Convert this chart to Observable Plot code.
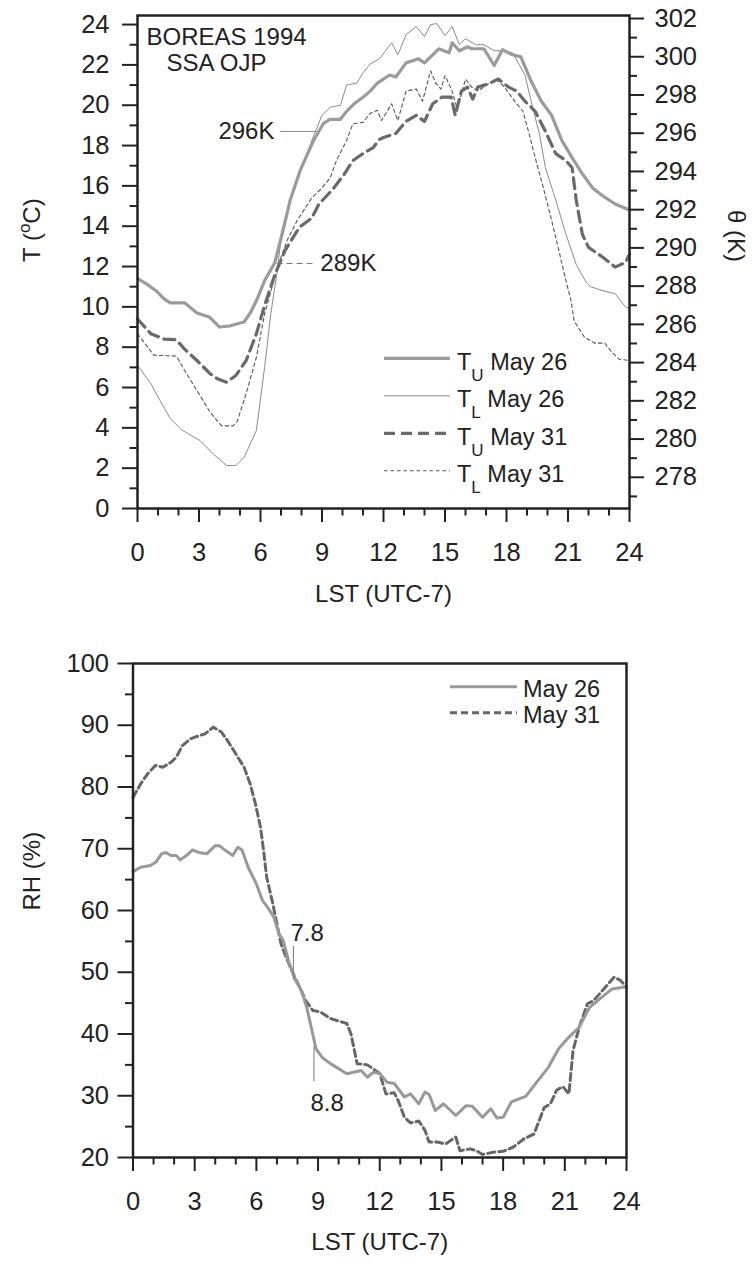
<!DOCTYPE html>
<html><head><meta charset="utf-8">
<script src="https://cdn.jsdelivr.net/npm/d3@7"></script>
<script src="https://cdn.jsdelivr.net/npm/@observablehq/plot@0.6"></script>
<style>
html,body{margin:0;padding:0;background:#fff;}
#chart{width:756px;height:1266px;position:relative;}
#chart svg{display:block;}
</style></head><body><div id="chart"></div>
<script>
// ---------- DATA (hour LST, value) ----------
const TU_MAY26 = [[0,11.4],[0.5,11.1],[0.9,10.8],[1.3,10.4],[1.6,10.2],[2.3,10.2],[2.6,9.95],[2.9,9.7],[3.5,9.5],[4.0,9.0],[4.5,9.05],[5.0,9.2],[5.2,9.25],[5.5,9.7],[5.8,10.3],[6.2,11.3],[6.7,12.2],[7.1,13.8],[7.45,15.3],[7.95,16.8],[8.3,17.6],[8.59,18.25],[9.07,19.1],[9.39,19.3],[9.9,19.3],[10.2,19.7],[10.6,20.1],[11.0,20.4],[11.35,20.7],[11.7,21.1],[12.3,21.5],[12.6,21.4],[13.1,22.1],[13.7,22.3],[14.0,22.1],[14.7,22.8],[15.2,22.6],[15.35,23.1],[15.7,22.7],[16.1,22.9],[16.3,22.8],[16.9,22.8],[17.4,21.97],[17.8,22.75],[18.3,22.5],[18.7,22.4],[19.2,21.2],[19.7,20.2],[20.2,19.5],[20.7,18.25],[21.2,17.4],[21.7,16.6],[22.2,15.9],[22.7,15.5],[23.3,15.1],[24,14.8]];
const TL_MAY26 = [[0,7.1],[0.65,6.2],[1.1,5.35],[1.6,4.46],[2.15,3.9],[3.05,3.37],[3.7,2.7],[4.35,2.13],[4.8,2.13],[5.2,2.54],[5.8,3.87],[6.2,7.0],[6.5,9.65],[6.8,11.65],[7.05,13.8],[7.5,15.5],[8.0,16.9],[8.6,18.5],[9.0,19.5],[9.4,19.9],[9.9,20.0],[10.2,21.0],[10.7,21.1],[11.0,21.6],[11.35,22.05],[11.8,22.3],[12.4,23.1],[12.7,22.5],[13.1,23.5],[13.6,23.9],[14.0,23.4],[14.3,24.0],[14.6,24.05],[15.0,23.45],[15.35,23.9],[15.7,23.0],[16.0,23.3],[16.5,23.0],[16.9,23.0],[17.4,22.7],[17.8,22.7],[18.3,22.6],[18.9,21.5],[19.2,20.2],[19.6,18.6],[19.9,16.9],[20.4,15.3],[20.9,13.6],[21.4,12.1],[21.9,11.2],[22.1,11.0],[22.7,10.8],[23.3,10.65],[23.8,10.0],[24,9.9]];
const TU_MAY31 = [[0,9.4],[0.65,8.67],[1.3,8.4],[1.9,8.37],[2.3,7.9],[2.9,7.34],[3.55,6.68],[3.9,6.43],[4.35,6.26],[4.8,6.6],[5.3,7.34],[5.8,8.67],[6.2,10.07],[6.7,11.6],[7.2,12.8],[7.9,13.95],[8.5,14.4],[8.85,15.1],[9.5,15.8],[10.1,16.6],[10.5,17.25],[11.0,17.6],[11.5,17.9],[11.8,18.3],[12.0,18.4],[12.6,18.6],[13.1,19.2],[13.6,19.5],[14.0,19.2],[14.4,20.07],[14.85,20.4],[15.3,20.4],[15.5,19.5],[15.8,20.7],[16.1,20.9],[16.35,20.3],[16.6,20.9],[17.1,21.05],[17.6,21.3],[18.1,20.9],[18.5,20.7],[18.9,20.2],[19.4,19.7],[19.9,18.7],[20.4,17.6],[20.9,17.25],[21.2,16.9],[21.4,15.3],[21.7,13.6],[22.0,12.95],[22.7,12.46],[23.3,11.97],[23.8,12.2],[24,12.6]];
const TL_MAY31 = [[0,8.67],[0.8,7.6],[1.9,7.56],[2.3,6.84],[2.9,5.85],[3.55,4.77],[4.1,4.1],[4.65,4.1],[4.85,4.28],[5.3,5.7],[5.8,7.5],[6.2,9.66],[6.7,11.47],[7.0,12.46],[7.3,13.3],[7.8,14.3],[8.5,15.4],[9.0,15.9],[9.4,16.4],[9.7,17.25],[10.2,18.25],[10.5,19.07],[11.0,19.15],[11.35,19.6],[11.7,19.75],[11.9,19.24],[12.4,20.07],[12.7,19.24],[13.1,20.7],[13.6,20.8],[13.9,20.2],[14.3,21.7],[14.55,21.1],[14.8,20.8],[15.0,21.47],[15.35,20.7],[15.6,19.8],[16.0,21.3],[16.3,20.9],[16.6,20.7],[17.1,21.05],[17.5,21.3],[17.9,20.9],[18.4,20.2],[18.8,19.7],[19.1,18.6],[19.4,17.4],[19.8,15.9],[20.2,14.3],[20.6,12.6],[20.85,11.5],[21.15,10.3],[21.3,9.3],[21.8,8.5],[22.3,8.2],[22.8,8.2],[23.1,7.8],[23.5,7.4],[24,7.34]];
const RH_MAY26 = [[0,66.3],[0.37,67.0],[0.85,67.3],[1.1,67.8],[1.4,69.2],[1.6,69.4],[1.85,68.9],[2.1,68.9],[2.3,68.2],[2.6,68.9],[2.9,69.8],[3.2,69.4],[3.6,69.2],[4.0,70.5],[4.2,70.5],[4.5,69.7],[4.85,68.9],[5.1,70.25],[5.3,69.8],[5.6,67.0],[6.0,64.3],[6.3,61.6],[6.55,60.5],[6.85,58.9],[7.1,56.2],[7.3,55.2],[7.6,51.4],[7.9,48.7],[8.2,47.0],[8.45,44.3],[8.7,40.6],[8.9,37.6],[9.2,36.2],[9.6,35.2],[9.9,34.6],[10.4,33.55],[11.1,34.1],[11.4,33.0],[11.7,33.8],[12.0,33.6],[12.35,32.2],[12.7,32.0],[13.2,29.8],[13.5,30.3],[13.9,28.7],[14.2,30.6],[14.4,30.2],[14.7,27.6],[15.1,28.7],[15.7,26.8],[16.2,28.4],[16.5,28.3],[17.0,26.5],[17.4,27.9],[17.7,26.4],[18.0,26.5],[18.4,29.0],[19.1,29.9],[19.7,32.5],[20.2,34.6],[20.7,37.6],[21.2,39.5],[21.7,41.1],[22.2,44.3],[22.7,45.7],[23.3,47.3],[23.9,47.6],[24,47.5]];
const RH_MAY31 = [[0,78.3],[0.37,80.5],[0.7,82.1],[1.1,83.5],[1.45,83.2],[1.85,84.0],[2.1,84.8],[2.4,86.7],[2.8,87.8],[3.2,88.3],[3.5,88.6],[3.9,89.7],[4.3,88.9],[4.6,87.5],[4.9,85.9],[5.4,83.2],[5.7,80.5],[5.95,77.3],[6.2,73.5],[6.35,69.7],[6.5,65.4],[6.8,61.1],[7.0,57.8],[7.2,54.6],[7.45,52.4],[7.8,49.7],[8.1,47.6],[8.4,45.4],[8.75,43.8],[9.1,43.6],[9.6,42.5],[10.4,41.7],[10.6,40.0],[10.9,35.2],[11.4,35.0],[12.0,33.6],[12.3,30.3],[12.7,30.5],[12.9,29.2],[13.2,26.5],[13.5,25.6],[13.9,25.9],[14.2,24.4],[14.4,22.5],[14.8,22.5],[15.2,22.2],[15.7,23.3],[15.9,21.1],[16.4,21.4],[16.7,21.1],[17.0,20.5],[17.6,20.9],[18.0,21.0],[18.5,21.7],[19.0,23.0],[19.5,23.8],[19.7,25.5],[20.0,28.1],[20.3,28.7],[20.6,30.9],[20.9,31.5],[21.2,30.3],[21.4,37.3],[21.7,41.1],[22.1,44.9],[22.4,45.4],[22.9,47.3],[23.4,49.2],[23.7,48.7],[24,47.6]];

// tick labels
const HOUR_MAJOR = [0,3,6,9,12,15,18,21,24];
const HOUR_MINOR = [1,2,4,5,7,8,10,11,13,14,16,17,19,20,22,23];
const T_MAJOR = [0,2,4,6,8,10,12,14,16,18,20,22,24];
const T_MINOR = [1,3,5,7,9,11,13,15,17,19,21,23];
const THETA_MAJOR = [278,280,282,284,286,288,290,292,294,296,298,300,302];
const THETA_MINOR = [277,279,281,283,285,287,289,291,293,295,297,299,301];
const RH_MAJOR = [20,30,40,50,60,70,80,90,100];
const RH_MINOR = [25,35,45,55,65,75,85,95];

// annotations
const TOP_NOTES_END = [{label:"296K", h:6.68, t:18.7}];
const TOP_NOTES_START = [{label:"289K", h:8.92, t:12.15}];
const TOP_LEADERS_SOLID = [{t:18.7, h1:6.97, h2:8.76}];
const TOP_LEADERS_DASH = [{t:12.15, h1:6.81, h2:8.56}];
const RH_NOTES = [{label:"7.8", h:7.66, r:56.3},{label:"8.8", h:8.63, r:28.7}];
const RH_LEADERS = [{h:7.8, r1:48.7, r2:54.2},{h:8.8, r1:32.2, r2:37.9}];

// right axis mapping (θ in K -> T position in °C as drawn)
const thetaToT = th => 24.3 - (302 - th) * 0.948;
const tToTheta = t => 302 - (24.3 - t) / 0.948;

const FONT = '"Liberation Sans", Arial, Helvetica, sans-serif';
const rows = pairs => pairs.map(([h, v]) => ({h, v}));
const TICK_FS = 25.5, LAB_FS = 24;
const INK = "#222";

// ---------------- TOP PANEL ----------------
const topSvg = Plot.plot({
  width: 756, height: 630,
  marginTop: 15, marginBottom: 122, marginLeft: 137, marginRight: 127,
  style: {fontFamily: FONT, fontSize: TICK_FS + "px", color: INK, background: "#fff", overflow: "visible"},
  x: {domain: [0, 24]},
  y: {domain: [0, 24.45]},
  marks: [
    Plot.line(rows(TL_MAY26), {x: "h", y: "v", stroke: "#8a8a8a", strokeWidth: 1}),
    Plot.line(rows(TL_MAY31), {x: "h", y: "v", stroke: "#555", strokeWidth: 1.1, strokeDasharray: "3.5,3"}),
    Plot.line(rows(TU_MAY31), {x: "h", y: "v", stroke: "#6a6a6a", strokeWidth: 3.2, strokeDasharray: "11,6"}),
    Plot.line(rows(TU_MAY26), {x: "h", y: "v", stroke: "#9b9b9b", strokeWidth: 3.2}),
    Plot.ruleY(TOP_LEADERS_SOLID, {y: "t", x1: "h1", x2: "h2", stroke: "#888", strokeWidth: 1}),
    Plot.ruleY(TOP_LEADERS_DASH, {y: "t", x1: "h1", x2: "h2", stroke: "#777", strokeWidth: 1, strokeDasharray: "6,4"}),
    Plot.text(TOP_NOTES_END, {x: "h", y: "t", text: "label", textAnchor: "end", fontSize: LAB_FS, fill: INK}),
    Plot.text(TOP_NOTES_START, {x: "h", y: "t", text: "label", textAnchor: "start", fontSize: LAB_FS, fill: INK}),
    Plot.text(["BOREAS 1994"], {text: d => d, frameAnchor: "top-left", dx: 9, dy: 22, textAnchor: "start", lineAnchor: "middle", fontSize: LAB_FS, fill: INK}),
    Plot.text(["SSA OJP"], {text: d => d, frameAnchor: "top-left", dx: 29, dy: 48, textAnchor: "start", lineAnchor: "middle", fontSize: LAB_FS, fill: INK}),
    Plot.frame({stroke: INK, strokeWidth: 2.5}),
    Plot.axisX(HOUR_MAJOR, {anchor: "bottom", tickSize: 14, tickPadding: 20, tickFormat: d => String(d), label: null, strokeWidth: 2, fontSize: TICK_FS}),
    Plot.axisX(HOUR_MINOR, {anchor: "bottom", tickSize: 7.5, tickFormat: () => "", label: null, strokeWidth: 2}),
    Plot.axisY(T_MAJOR, {anchor: "left", tickSize: 15, tickPadding: 13, tickFormat: d => String(d), label: null, strokeWidth: 2, fontSize: TICK_FS}),
    Plot.axisY(T_MINOR, {anchor: "left", tickSize: 7.5, tickFormat: () => "", label: null, strokeWidth: 2}),
    Plot.axisY(THETA_MAJOR.map(thetaToT), {anchor: "right", tickSize: 14, tickPadding: 11, tickFormat: d => String(Math.round(tToTheta(d))), label: null, strokeWidth: 2, fontSize: TICK_FS}),
    Plot.axisY(THETA_MINOR.map(thetaToT), {anchor: "right", tickSize: 7, tickFormat: () => "", label: null, strokeWidth: 2}),
    Plot.text(["LST (UTC-7)"], {text: d => d, frameAnchor: "bottom", dy: 86, lineAnchor: "middle", fontSize: LAB_FS, fill: INK}),
    Plot.text(["T (oC)"], {text: d => d, frameAnchor: "left", dx: -105, rotate: -90, lineAnchor: "middle", fontSize: LAB_FS, fill: INK}),
    Plot.text(["θ (K)"], {text: d => d, frameAnchor: "right", dx: 106, rotate: 90, lineAnchor: "middle", fontSize: LAB_FS, fill: INK})
  ]
});

// ---------------- BOTTOM PANEL ----------------
const botSvg = Plot.plot({
  width: 756, height: 636,
  marginTop: 33, marginBottom: 109, marginLeft: 132.5, marginRight: 130,
  style: {fontFamily: FONT, fontSize: TICK_FS + "px", color: INK, background: "#fff", overflow: "visible"},
  x: {domain: [0, 24]},
  y: {domain: [20, 100]},
  marks: [
    Plot.line(rows(RH_MAY31), {x: "h", y: "v", stroke: "#666", strokeWidth: 3, strokeDasharray: "7,4"}),
    Plot.line(rows(RH_MAY26), {x: "h", y: "v", stroke: "#999", strokeWidth: 3}),
    Plot.ruleX(RH_LEADERS, {x: "h", y1: "r1", y2: "r2", stroke: "#777", strokeWidth: 1}),
    Plot.text(RH_NOTES, {x: "h", y: "r", text: "label", textAnchor: "start", fontSize: LAB_FS, fill: INK}),
    Plot.frame({stroke: INK, strokeWidth: 2.5}),
    Plot.axisX(HOUR_MAJOR, {anchor: "bottom", tickSize: 14, tickPadding: 20, tickFormat: d => String(d), label: null, strokeWidth: 2, fontSize: TICK_FS}),
    Plot.axisX(HOUR_MINOR, {anchor: "bottom", tickSize: 7.5, tickFormat: () => "", label: null, strokeWidth: 2}),
    Plot.axisY(RH_MAJOR, {anchor: "left", tickSize: 15, tickPadding: 9, tickFormat: d => String(d), label: null, strokeWidth: 2, fontSize: TICK_FS}),
    Plot.axisY(RH_MINOR, {anchor: "left", tickSize: 7.5, tickFormat: () => "", label: null, strokeWidth: 2}),
    Plot.text(["LST (UTC-7)"], {text: d => d, frameAnchor: "bottom", dy: 85, lineAnchor: "middle", fontSize: LAB_FS, fill: INK}),
    Plot.text(["RH (%)"], {text: d => d, frameAnchor: "left", dx: -100.5, rotate: -90, lineAnchor: "middle", fontSize: LAB_FS, fill: INK})
  ]
});

const chart = document.getElementById("chart");
chart.appendChild(topSvg);
chart.appendChild(botSvg);

// superscript in T (oC)
d3.select(topSvg).selectAll("text").filter(function(){ return this.textContent === "T (oC)"; }).each(function(){
  const t = d3.select(this);
  t.text("");
  t.append("tspan").text("T (");
  t.append("tspan").attr("dy", -10).attr("font-size", 17).text("o");
  t.append("tspan").attr("dy", 10).text("C)");
});

// ---------- legends ----------
const TOP_LEGEND = [
  {name: "T", sub: "U", date: "May 26", stroke: "#9b9b9b", width: 3.2, dash: null},
  {name: "T", sub: "L", date: "May 26", stroke: "#8a8a8a", width: 1, dash: null},
  {name: "T", sub: "U", date: "May 31", stroke: "#6a6a6a", width: 3.2, dash: "11,6"},
  {name: "T", sub: "L", date: "May 31", stroke: "#555", width: 1.1, dash: "3.5,3"}
];
const lgT = d3.select(topSvg).append("g").attr("font-family", FONT).attr("fill", INK).attr("text-anchor", "start");
TOP_LEGEND.forEach((d, i) => {
  const y = 358.3 + i * 37.5;
  lgT.append("line").attr("x1", 384).attr("x2", 450).attr("y1", y).attr("y2", y)
    .attr("stroke", d.stroke).attr("stroke-width", d.width).attr("stroke-dasharray", d.dash);
  const tx = lgT.append("text").attr("x", 457).attr("y", y + 11.5).attr("font-size", 23.5).attr("text-anchor", "start");
  tx.append("tspan").text(d.name);
  tx.append("tspan").attr("dy", 11).attr("font-size", 17).text(d.sub);
  tx.append("tspan").attr("dy", -11).text("\u00a0" + d.date);
});

const BOT_LEGEND = [
  {date: "May 26", stroke: "#999", width: 3, dash: null},
  {date: "May 31", stroke: "#666", width: 3, dash: "7,4"}
];
const lgB = d3.select(botSvg).append("g").attr("font-family", FONT).attr("fill", INK).attr("text-anchor", "start");
BOT_LEGEND.forEach((d, i) => {
  const y = 56.7 + i * 26;
  lgB.append("line").attr("x1", 450).attr("x2", 517).attr("y1", y).attr("y2", y)
    .attr("stroke", d.stroke).attr("stroke-width", d.width).attr("stroke-dasharray", d.dash);
  lgB.append("text").attr("x", 523).attr("y", y + 2.3).attr("dy", "0.36em").attr("font-size", 23.5).attr("text-anchor", "start").text(d.date);
});
</script>
</body></html>
